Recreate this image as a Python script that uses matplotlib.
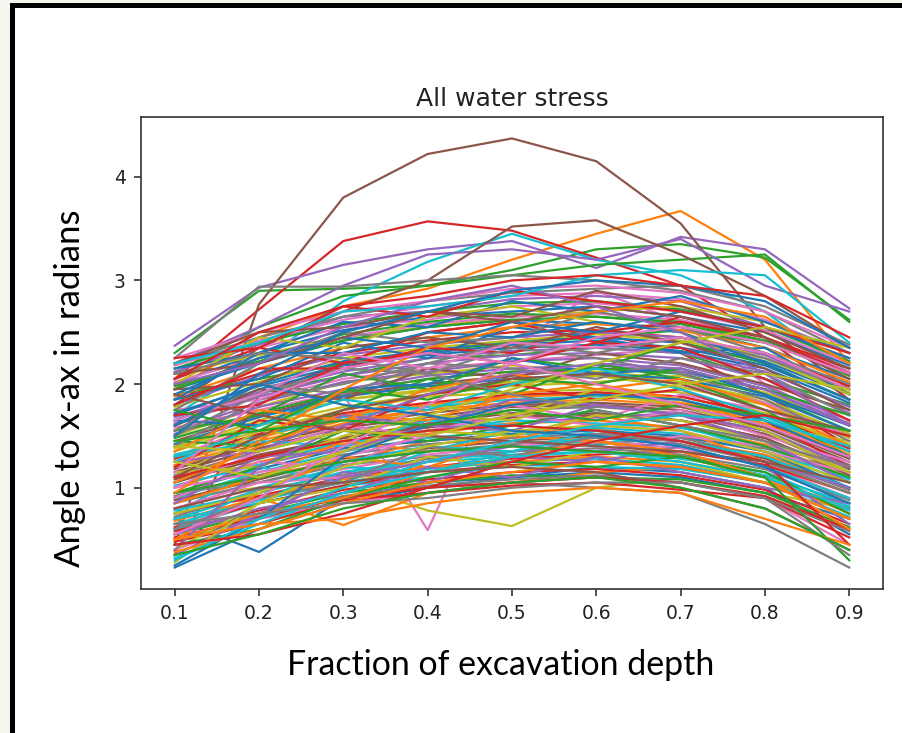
import matplotlib
matplotlib.use("Agg")
import matplotlib.pyplot as plt
from matplotlib.patches import Rectangle

# fraction of excavation depth (x axis)
depth_fraction = [0.1, 0.2, 0.3, 0.4, 0.5, 0.6, 0.7, 0.8, 0.9]

# angle curves (radians), one row per curve
outlier_curves = [
    [0.70, 0.38, 0.90, 1.05, 1.10, 1.20, 1.15, 1.00, 0.55],
    [1.95, 2.45, 2.75, 2.92, 3.20, 3.45, 3.67, 3.20, 2.20],
    [2.30, 2.90, 2.92, 2.95, 3.10, 3.30, 3.35, 3.22, 2.62],
    [2.05, 2.72, 3.38, 3.57, 3.48, 3.22, 2.95, 2.45, 1.85],
    [2.37, 2.93, 3.15, 3.30, 3.38, 3.12, 3.42, 3.30, 2.73],
    [0.45, 2.77, 3.80, 4.22, 4.37, 4.15, 3.55, 2.55, 1.95],
    [1.30, 1.60, 1.90, 0.59, 2.35, 2.90, 2.60, 2.00, 1.60],
    [0.60, 0.75, 0.90, 1.00, 1.05, 1.00, 0.95, 0.65, 0.23],
    [0.90, 1.00, 1.05, 0.78, 0.63, 1.00, 1.10, 0.95, 0.80],
    [1.70, 2.20, 2.80, 3.18, 3.45, 3.20, 3.05, 2.70, 2.10],
    [0.23, 0.60, 0.85, 1.00, 1.10, 1.15, 1.10, 0.95, 0.70],
    [0.80, 0.90, 0.64, 0.95, 1.05, 1.15, 1.20, 1.05, 0.85],
    [2.10, 2.55, 2.85, 2.95, 3.05, 3.15, 3.20, 3.25, 2.60],
    [0.35, 1.90, 2.20, 2.50, 2.60, 2.50, 2.30, 1.90, 1.40],
    [2.20, 2.55, 2.95, 3.25, 3.30, 3.20, 3.40, 2.95, 2.70],
    [1.80, 2.35, 2.70, 3.00, 3.52, 3.58, 3.25, 2.85, 2.35],
    [0.40, 0.70, 0.85, 0.95, 1.05, 1.10, 1.05, 0.90, 0.45],
    [2.25, 2.94, 2.94, 3.00, 3.05, 3.00, 2.90, 2.70, 2.30],
]

band_curves = [
    [1.35, 1.62, 1.85, 1.93, 2.00, 2.08, 1.97, 1.80, 1.48],
    [0.60, 0.85, 1.02, 1.10, 1.22, 1.20, 1.18, 1.05, 0.72],
    [1.95, 2.20, 2.42, 2.55, 2.62, 2.58, 2.55, 2.35, 2.05],
    [0.85, 1.12, 1.25, 1.45, 1.52, 1.57, 1.45, 1.32, 1.00],
    [1.60, 1.92, 2.08, 2.25, 2.28, 2.35, 2.30, 2.05, 1.80],
    [0.48, 0.65, 0.88, 0.95, 1.02, 1.05, 0.98, 0.90, 0.52],
    [2.12, 2.38, 2.65, 2.70, 2.82, 2.85, 2.80, 2.55, 2.25],
    [1.05, 1.32, 1.48, 1.62, 1.72, 1.68, 1.70, 1.52, 1.18],
    [1.75, 1.85, 2.05, 2.15, 2.22, 2.28, 2.35, 2.25, 2.00],
    [0.95, 1.05, 1.22, 1.30, 1.35, 1.42, 1.48, 1.38, 1.15],
    [1.50, 1.78, 2.02, 2.10, 2.18, 2.12, 2.05, 1.82, 1.52],
    [0.70, 0.95, 1.15, 1.28, 1.32, 1.35, 1.30, 1.12, 0.85],
    [2.00, 2.30, 2.52, 2.65, 2.70, 2.75, 2.65, 2.50, 2.18],
    [1.20, 1.42, 1.62, 1.75, 1.88, 1.90, 1.82, 1.65, 1.35],
    [0.55, 0.75, 0.95, 1.05, 1.12, 1.10, 1.08, 0.95, 0.62],
    [1.85, 2.10, 2.30, 2.42, 2.50, 2.52, 2.45, 2.30, 1.98],
    [1.10, 1.22, 1.40, 1.55, 1.62, 1.68, 1.72, 1.60, 1.30],
    [1.45, 1.70, 1.90, 2.00, 2.08, 2.15, 2.12, 1.95, 1.60],
    [0.80, 1.00, 1.18, 1.32, 1.40, 1.45, 1.38, 1.22, 0.90],
    [2.20, 2.45, 2.65, 2.80, 2.88, 2.92, 2.95, 2.75, 2.38],
    [1.30, 1.55, 1.75, 1.88, 1.92, 1.95, 1.92, 1.72, 1.42],
    [0.65, 0.88, 1.05, 1.18, 1.25, 1.28, 1.22, 1.05, 0.78],
    [1.65, 1.95, 2.15, 2.30, 2.38, 2.42, 2.35, 2.18, 1.85],
    [1.00, 1.25, 1.42, 1.52, 1.62, 1.65, 1.58, 1.42, 1.10],
    [1.90, 2.05, 2.20, 2.32, 2.40, 2.45, 2.52, 2.40, 2.15],
    [0.75, 0.92, 1.10, 1.20, 1.28, 1.32, 1.35, 1.22, 0.95],
    [1.55, 1.82, 2.02, 2.12, 2.22, 2.25, 2.18, 1.98, 1.65],
    [1.15, 1.38, 1.58, 1.68, 1.78, 1.80, 1.75, 1.58, 1.25],
    [2.05, 2.35, 2.55, 2.62, 2.75, 2.78, 2.70, 2.52, 2.20],
    [0.50, 0.70, 0.92, 1.02, 1.08, 1.12, 1.05, 0.90, 0.58],
    [1.40, 1.60, 1.78, 1.90, 1.98, 2.02, 2.08, 1.92, 1.62],
    [0.90, 1.15, 1.35, 1.48, 1.55, 1.58, 1.52, 1.35, 1.05],
    [1.70, 2.00, 2.22, 2.32, 2.42, 2.45, 2.40, 2.22, 1.90],
    [1.25, 1.48, 1.70, 1.80, 1.88, 1.92, 1.88, 1.70, 1.40],
    [2.15, 2.40, 2.58, 2.70, 2.78, 2.80, 2.72, 2.55, 2.22],
    [0.62, 0.85, 1.02, 1.15, 1.22, 1.25, 1.20, 1.05, 0.70],
    [1.80, 2.08, 2.28, 2.38, 2.45, 2.50, 2.45, 2.28, 1.95],
    [1.08, 1.30, 1.48, 1.58, 1.68, 1.72, 1.65, 1.48, 1.15],
    [1.58, 1.75, 1.92, 2.05, 2.12, 2.10, 2.00, 1.82, 1.50],
    [0.72, 0.98, 1.12, 1.28, 1.35, 1.38, 1.32, 1.18, 0.88],
    [2.10, 2.28, 2.45, 2.55, 2.65, 2.70, 2.75, 2.60, 2.30],
    [1.32, 1.50, 1.68, 1.78, 1.85, 1.88, 1.85, 1.68, 1.38],
    [0.95, 1.18, 1.38, 1.45, 1.52, 1.55, 1.50, 1.35, 1.00],
    [1.88, 2.15, 2.35, 2.45, 2.55, 2.58, 2.52, 2.35, 2.02],
    [1.48, 1.72, 1.92, 2.05, 2.12, 2.15, 2.10, 1.90, 1.55],
    [0.58, 0.78, 0.98, 1.08, 1.15, 1.18, 1.12, 0.98, 0.65],
    [1.62, 1.88, 2.08, 2.20, 2.28, 2.30, 2.25, 2.05, 1.72],
    [1.18, 1.42, 1.60, 1.72, 1.80, 1.82, 1.78, 1.60, 1.28],
    [2.02, 2.25, 2.45, 2.58, 2.65, 2.68, 2.62, 2.45, 2.12],
    [0.85, 1.05, 1.25, 1.35, 1.42, 1.48, 1.42, 1.25, 0.95],
    [1.38, 1.65, 1.85, 1.95, 2.02, 2.08, 2.02, 1.85, 1.52],
    [1.02, 1.22, 1.45, 1.55, 1.65, 1.62, 1.58, 1.40, 1.08],
    [1.72, 1.98, 2.18, 2.28, 2.35, 2.38, 2.32, 2.15, 1.82],
    [0.68, 0.90, 1.08, 1.20, 1.25, 1.30, 1.25, 1.10, 0.75],
    [1.95, 2.25, 2.48, 2.60, 2.68, 2.65, 2.58, 2.40, 2.10],
    [1.28, 1.52, 1.72, 1.82, 1.90, 1.92, 1.88, 1.70, 1.38],
    [1.52, 1.78, 1.95, 2.08, 2.15, 2.18, 2.12, 1.95, 1.62],
    [0.88, 1.08, 1.28, 1.38, 1.45, 1.50, 1.45, 1.28, 0.98],
    [2.18, 2.42, 2.62, 2.75, 2.85, 2.88, 2.82, 2.62, 2.30],
    [1.12, 1.35, 1.55, 1.65, 1.75, 1.78, 1.72, 1.55, 1.22],
    [1.78, 2.02, 2.25, 2.35, 2.42, 2.48, 2.42, 2.25, 1.92],
    [0.78, 0.95, 1.15, 1.25, 1.30, 1.35, 1.28, 1.15, 0.82],
    [1.42, 1.68, 1.88, 1.98, 2.05, 2.10, 2.05, 1.88, 1.55],
    [1.22, 1.45, 1.65, 1.75, 1.82, 1.85, 1.80, 1.62, 1.32],
    [1.98, 2.22, 2.42, 2.55, 2.62, 2.65, 2.60, 2.42, 2.08],
    [0.52, 0.72, 0.90, 1.00, 1.05, 1.10, 1.05, 0.92, 0.60],
    [1.68, 1.92, 2.12, 2.25, 2.32, 2.35, 2.30, 2.12, 1.78],
    [1.05, 1.28, 1.48, 1.60, 1.68, 1.70, 1.65, 1.48, 1.12],
    [2.25, 2.50, 2.70, 2.80, 2.92, 2.95, 2.88, 2.70, 2.35],
    [0.92, 1.12, 1.32, 1.42, 1.48, 1.52, 1.48, 1.30, 0.98],
]

noisy_curves = [
    [1.10, 1.55, 1.45, 1.80, 1.70, 1.95, 1.85, 1.60, 1.45],
    [0.75, 1.20, 1.05, 1.35, 1.55, 1.40, 1.60, 1.35, 1.10],
    [1.85, 2.05, 2.40, 2.25, 2.55, 2.45, 2.30, 2.35, 1.90],
    [0.50, 0.95, 1.30, 1.20, 1.45, 1.70, 1.55, 1.25, 0.95],
    [1.45, 1.40, 1.75, 2.05, 1.90, 2.20, 2.05, 1.75, 1.30],
    [2.05, 2.35, 2.20, 2.50, 2.60, 2.40, 2.65, 2.45, 2.10],
    [0.65, 0.70, 1.15, 1.05, 1.30, 1.25, 1.40, 1.20, 0.65],
    [1.60, 1.95, 1.85, 2.15, 2.05, 2.30, 2.20, 2.00, 1.75],
    [1.00, 1.35, 1.60, 1.50, 1.80, 1.65, 1.90, 1.75, 1.50],
    [1.75, 2.20, 2.50, 2.40, 2.45, 2.70, 2.55, 2.30, 2.00],
    [0.40, 0.85, 1.00, 1.30, 1.20, 1.35, 1.25, 1.05, 0.70],
    [1.30, 1.45, 1.40, 1.65, 1.60, 1.75, 1.60, 1.45, 1.05],
    [2.15, 2.30, 2.60, 2.55, 2.80, 2.70, 2.85, 2.60, 2.30],
    [0.85, 1.10, 1.45, 1.35, 1.50, 1.45, 1.30, 1.10, 0.80],
    [1.55, 1.70, 2.10, 1.95, 2.25, 2.15, 2.40, 2.20, 1.85],
    [1.20, 1.65, 1.55, 1.90, 2.00, 1.85, 1.95, 1.65, 1.20],
    [0.55, 0.80, 0.95, 1.20, 1.10, 1.30, 1.15, 1.00, 0.85],
    [1.95, 2.00, 2.35, 2.45, 2.35, 2.55, 2.40, 2.15, 1.75],
    [0.90, 1.25, 1.20, 1.55, 1.70, 1.60, 1.75, 1.50, 1.25],
    [1.40, 1.85, 2.00, 2.20, 2.15, 2.05, 2.25, 2.10, 1.70],
    [2.00, 2.45, 2.35, 2.65, 2.75, 2.60, 2.50, 2.25, 1.90],
    [0.70, 0.85, 1.25, 1.40, 1.35, 1.55, 1.45, 1.30, 1.00],
    [1.65, 1.60, 1.95, 2.00, 2.25, 2.10, 2.15, 1.90, 1.60],
    [1.05, 1.40, 1.70, 1.65, 1.90, 2.00, 1.85, 1.60, 1.35],
    [0.45, 0.60, 0.90, 1.10, 1.25, 1.20, 1.30, 1.15, 0.75],
    [1.80, 2.15, 2.15, 2.35, 2.30, 2.50, 2.60, 2.45, 2.15],
    [1.25, 1.35, 1.70, 1.60, 1.85, 1.80, 1.70, 1.55, 1.20],
    [2.20, 2.50, 2.55, 2.70, 2.65, 2.90, 2.75, 2.50, 2.15],
    [0.80, 1.05, 1.10, 1.25, 1.45, 1.35, 1.50, 1.40, 1.20],
    [1.50, 1.90, 2.15, 2.10, 2.35, 2.25, 2.10, 1.85, 1.45],
    [1.15, 1.20, 1.50, 1.70, 1.65, 1.90, 1.80, 1.55, 1.15],
    [0.60, 1.00, 1.20, 1.15, 1.35, 1.50, 1.40, 1.20, 0.90],
    [1.90, 2.25, 2.45, 2.35, 2.60, 2.50, 2.70, 2.55, 2.25],
    [1.35, 1.75, 1.65, 1.95, 2.10, 1.95, 2.05, 1.80, 1.40],
    [0.95, 1.20, 1.55, 1.45, 1.60, 1.75, 1.60, 1.40, 1.10],
    [1.70, 1.80, 2.20, 2.30, 2.20, 2.40, 2.35, 2.05, 1.65],
    [0.35, 0.75, 1.10, 1.25, 1.40, 1.35, 1.45, 1.25, 1.00],
    [2.10, 2.20, 2.45, 2.70, 2.60, 2.75, 2.65, 2.45, 2.05],
    [1.00, 1.15, 1.30, 1.50, 1.45, 1.60, 1.55, 1.35, 1.15],
    [1.55, 2.00, 1.90, 2.20, 2.40, 2.30, 2.45, 2.25, 1.95],
    [0.75, 0.95, 1.35, 1.55, 1.50, 1.70, 1.65, 1.45, 1.15],
    [1.25, 1.60, 1.85, 1.75, 2.00, 2.15, 1.95, 1.70, 1.35],
    [1.85, 2.30, 2.30, 2.50, 2.45, 2.60, 2.50, 2.20, 1.85],
    [0.50, 0.75, 0.90, 1.15, 1.30, 1.45, 1.35, 1.10, 0.60],
    [1.45, 1.55, 1.95, 1.85, 2.05, 2.00, 2.15, 1.95, 1.70],
    [2.25, 2.35, 2.75, 2.65, 2.90, 2.80, 2.70, 2.55, 2.30],
    [0.85, 1.30, 1.35, 1.60, 1.55, 1.80, 1.70, 1.45, 1.05],
    [1.10, 1.50, 1.75, 1.90, 2.05, 2.10, 2.00, 1.75, 1.55],
    [1.65, 1.90, 2.30, 2.15, 2.40, 2.35, 2.45, 2.30, 1.95],
    [0.60, 0.90, 1.05, 1.40, 1.30, 1.50, 1.45, 1.25, 0.95],
    [0.28, 0.85, 1.20, 1.40, 1.55, 1.60, 1.55, 1.35, 1.05],
    [0.32, 0.65, 0.95, 1.15, 1.30, 1.35, 1.25, 1.10, 0.80],
    [0.25, 0.70, 1.30, 1.60, 1.80, 1.90, 1.85, 1.65, 1.30],
    [0.38, 0.60, 0.85, 1.05, 1.15, 1.25, 1.20, 1.05, 0.70],
    [0.95, 1.10, 1.25, 1.35, 1.40, 1.35, 1.30, 1.10, 0.30],
    [1.10, 1.30, 1.45, 1.55, 1.60, 1.55, 1.45, 1.25, 0.45],
]

crossing_curves = [
    [0.40, 1.20, 1.60, 1.90, 2.10, 2.20, 2.15, 1.95, 1.60],
    [1.90, 1.70, 1.55, 1.50, 1.45, 1.40, 1.35, 1.25, 1.05],
    [0.55, 0.90, 1.40, 1.80, 2.20, 2.45, 2.55, 2.40, 2.10],
    [2.10, 2.30, 2.25, 2.10, 1.90, 1.75, 1.60, 1.45, 1.20],
    [1.25, 1.10, 1.35, 1.70, 1.95, 2.20, 2.40, 2.55, 2.35],
    [0.30, 0.70, 1.00, 1.25, 1.45, 1.60, 1.70, 1.65, 1.40],
    [1.60, 2.00, 1.80, 1.70, 1.55, 1.50, 1.40, 1.20, 0.85],
    [0.95, 1.45, 1.95, 2.35, 2.55, 2.70, 2.80, 2.65, 2.20],
    [1.75, 1.55, 1.65, 1.60, 1.75, 1.65, 1.80, 1.70, 1.55],
    [0.45, 0.55, 0.75, 1.00, 1.25, 1.45, 1.60, 1.70, 1.50],
    [2.00, 2.20, 2.55, 2.80, 2.95, 2.75, 2.50, 2.10, 1.60],
    [0.80, 1.00, 1.05, 1.15, 1.20, 1.15, 1.00, 0.80, 0.40],
    [1.15, 1.85, 2.15, 2.30, 2.20, 2.00, 1.80, 1.60, 1.30],
    [0.65, 0.75, 0.85, 0.90, 1.00, 1.05, 1.05, 0.90, 0.35],
    [1.40, 1.35, 1.55, 1.50, 1.70, 1.85, 2.00, 2.10, 1.95],
    [2.20, 2.40, 2.70, 2.75, 2.85, 3.05, 3.10, 3.05, 2.40],
    [1.50, 2.10, 2.50, 2.70, 2.90, 3.00, 2.95, 2.80, 2.35],
    [0.50, 0.65, 0.70, 0.85, 0.95, 1.00, 0.95, 0.70, 0.45],
    [0.35, 0.55, 0.80, 0.95, 1.05, 1.10, 1.00, 0.80, 0.40],
    [2.05, 2.50, 2.75, 2.85, 3.00, 3.05, 2.95, 2.85, 2.45],
]

title = "All water stress"
x_label = "Fraction of excavation depth"
y_label = "Angle to x-ax in radians"

fig = plt.figure(figsize=(9.02, 7.33), dpi=100)
ax = fig.add_axes([0.1563, 0.1965, 0.8226, 0.6439])

for curve in outlier_curves + band_curves + noisy_curves + crossing_curves:
    ax.plot(depth_fraction, curve, linewidth=1.6)

ax.set_xticks(depth_fraction)
ax.set_yticks([1, 2, 3, 4])
ax.tick_params(labelsize=13.5, length=5, width=1.1, pad=6, colors="#222222")
for spine in ax.spines.values():
    spine.set_linewidth(1.2)
    spine.set_color("#333333")
ax.set_title(title, fontsize=18, pad=8, color="#222222")

# the big axis labels sit outside the plot, like a pasted slide
fig.text(501 / 902, 1 - 665 / 733, x_label, fontsize=24.4, family="Lato",
         ha="center", va="center")
fig.text(70 / 902, 1 - 388 / 733, y_label, fontsize=25, family="Lato",
         rotation=90, ha="center", va="center")

# frame around the picture: light strip outside, thick black edge
fig.patches.append(Rectangle((0, 0), 10 / 902, 1, transform=fig.transFigure,
                             facecolor="#f5f4ef", edgecolor="none"))
fig.patches.append(Rectangle((0, 1 - 3 / 733), 1, 3 / 733, transform=fig.transFigure,
                             facecolor="#f5f4ef", edgecolor="none"))
fig.patches.append(Rectangle((10 / 902, 0), 5 / 902, 1 - 3 / 733, transform=fig.transFigure,
                             facecolor="black", edgecolor="none"))
fig.patches.append(Rectangle((10 / 902, 1 - 8 / 733), 1, 5 / 733, transform=fig.transFigure,
                             facecolor="black", edgecolor="none"))

fig.savefig("out.png", dpi=100)
